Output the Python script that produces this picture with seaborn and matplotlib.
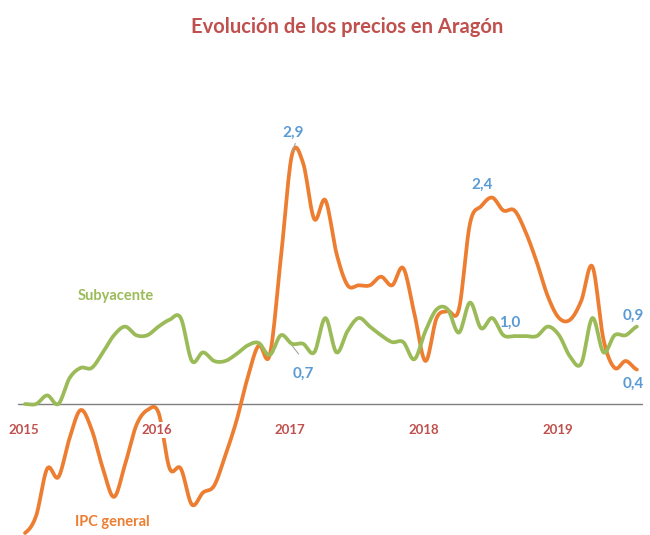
import numpy as np
import pandas as pd
import matplotlib
matplotlib.use("Agg")
import matplotlib.pyplot as plt
import seaborn as sns

# ---- data (monthly, Jan 2015 - Aug 2019) ----
months = pd.date_range("2015-01-01", "2019-08-01", freq="MS")
ipc_general = [-1.5, -1.3, -0.75, -0.85, -0.4, -0.07, -0.3, -0.75, -1.08, -0.7, -0.25, -0.07,
               -0.1, -0.75, -0.75, -1.17, -1.03, -0.95, -0.6, -0.2, 0.3, 0.68, 0.57, 1.7,
               2.9, 2.8, 2.15, 2.37, 1.75, 1.38, 1.38, 1.38, 1.48, 1.38, 1.58, 1.05,
               0.5, 1.0, 1.08, 1.1, 2.1, 2.3, 2.4, 2.25, 2.25, 2.0, 1.65, 1.25,
               1.0, 0.98, 1.2, 1.6, 0.75, 0.42, 0.5, 0.4]
subyacente = [0.0, 0.0, 0.1, 0.0, 0.3, 0.42, 0.42, 0.6, 0.8, 0.9, 0.8, 0.8,
              0.9, 0.98, 1.0, 0.5, 0.6, 0.5, 0.5, 0.58, 0.68, 0.71, 0.57, 0.8,
              0.7, 0.7, 0.6, 1.0, 0.6, 0.85, 1.0, 0.9, 0.8, 0.72, 0.72, 0.52,
              0.85, 1.1, 1.1, 0.83, 1.18, 0.88, 1.0, 0.8, 0.79, 0.79, 0.79, 0.9,
              0.8, 0.55, 0.47, 1.0, 0.6, 0.8, 0.8, 0.9]
year_labels = ["2015", "2016", "2017", "2018", "2019"]
# data labels: (series, month index, text)
point_labels = [("ipc", 24, "2,9"), ("ipc", 42, "2,4"), ("sub", 43, "1,0"),
                ("sub", 25, "0,7"), ("sub", 55, "0,9"), ("ipc", 55, "0,4")]

ORANGE = "#ED7D31"
GREEN = "#9BBB59"
BLUE = "#5B9BD5"
RED = "#C0504D"

sns.set_theme(style="white")
plt.rcParams["font.family"] = ["Lato", "DejaVu Sans"]


def smooth(y, n=12):
    """Catmull-Rom smoothing through the monthly points (display only)."""
    y = np.asarray(y, float)
    p = np.concatenate([[y[0]], y, [y[-1]]])
    xs, ys = [], []
    for i in range(len(y) - 1):
        p0, p1, p2, p3 = p[i], p[i + 1], p[i + 2], p[i + 3]
        t = np.linspace(0, 1, n, endpoint=False)
        v = 0.5 * ((2 * p1) + (-p0 + p2) * t + (2 * p0 - 5 * p1 + 4 * p2 - p3) * t ** 2
                   + (-p0 + 3 * p1 - 3 * p2 + p3) * t ** 3)
        xs.append(i + t)
        ys.append(v)
    xs.append([len(y) - 1])
    ys.append([y[-1]])
    return np.concatenate(xs), np.concatenate(ys)


xi, yi = smooth(ipc_general)
xs_, ys_ = smooth(subyacente)
df = pd.concat([
    pd.DataFrame({"m": xi, "v": yi, "serie": "IPC general"}),
    pd.DataFrame({"m": xs_, "v": ys_, "serie": "Subyacente"}),
])

fig = plt.figure(figsize=(6.5, 5.35), dpi=100)
ax = fig.add_axes([0, 0, 1, 1])
sns.lineplot(data=df, x="m", y="v", hue="serie", palette={"IPC general": ORANGE, "Subyacente": GREEN},
             linewidth=2.7, legend=False, ax=ax, sort=False, estimator=None)
ax.axhline(0, xmin=18 / 650, xmax=642 / 650, color="#7F7F7F", lw=1.0, zorder=1)

ax.set_xlim(-25 / 11.125, (650 - 25) / 11.125)
ax.set_ylim((404 - 535) / 86.0, 404 / 86.0)
ax.axis("off")

# year labels
for k, lab in enumerate(year_labels):
    ax.text(12 * k - 0.15, -0.30, lab, ha="center", va="center", color=RED, fontsize=9.5,
            fontweight="bold", zorder=5,
            bbox=dict(boxstyle="square,pad=0.15", fc="white", ec="none"))

# data labels
offsets = {"2,9": (0.1, 0.25), "2,4": (-0.9, 0.15), "1,0": (0.6, 0.14),
           "0,7": (0.0, -0.35), "0,9": (-0.3, 0.13), "0,4": (-0.3, -0.17)}
for s, m, txt in point_labels:
    yv = ipc_general[m] if s == "ipc" else subyacente[m]
    dx, dy = offsets[txt]
    ax.text(m + dx, yv + dy, txt, ha="center", va="center", color=BLUE, fontsize=11,
            fontweight="bold", zorder=6)
ax.plot([24.0, 24.3], [2.93, 3.03], color="#A6A6A6", lw=0.8, zorder=6)
ax.plot([24.0, 24.6], [0.68, 0.58], color="#A6A6A6", lw=0.8, zorder=6)

ax.text((116 - 25) / 11.125, (404 - 296) / 86.0, "Subyacente", ha="center", va="center",
        color=GREEN, fontsize=10.5, fontweight="bold")
ax.text((112 - 25) / 11.125, (404 - 522) / 86.0, "IPC general", ha="center", va="center",
        color=ORANGE, fontsize=10.5, fontweight="bold")

fig.text(347 / 650, 1 - 27 / 535, "Evolución de los precios en Aragón", ha="center", va="center",
         color=RED, fontsize=14.5, fontweight="bold")

fig.savefig("out.png", dpi=100)
